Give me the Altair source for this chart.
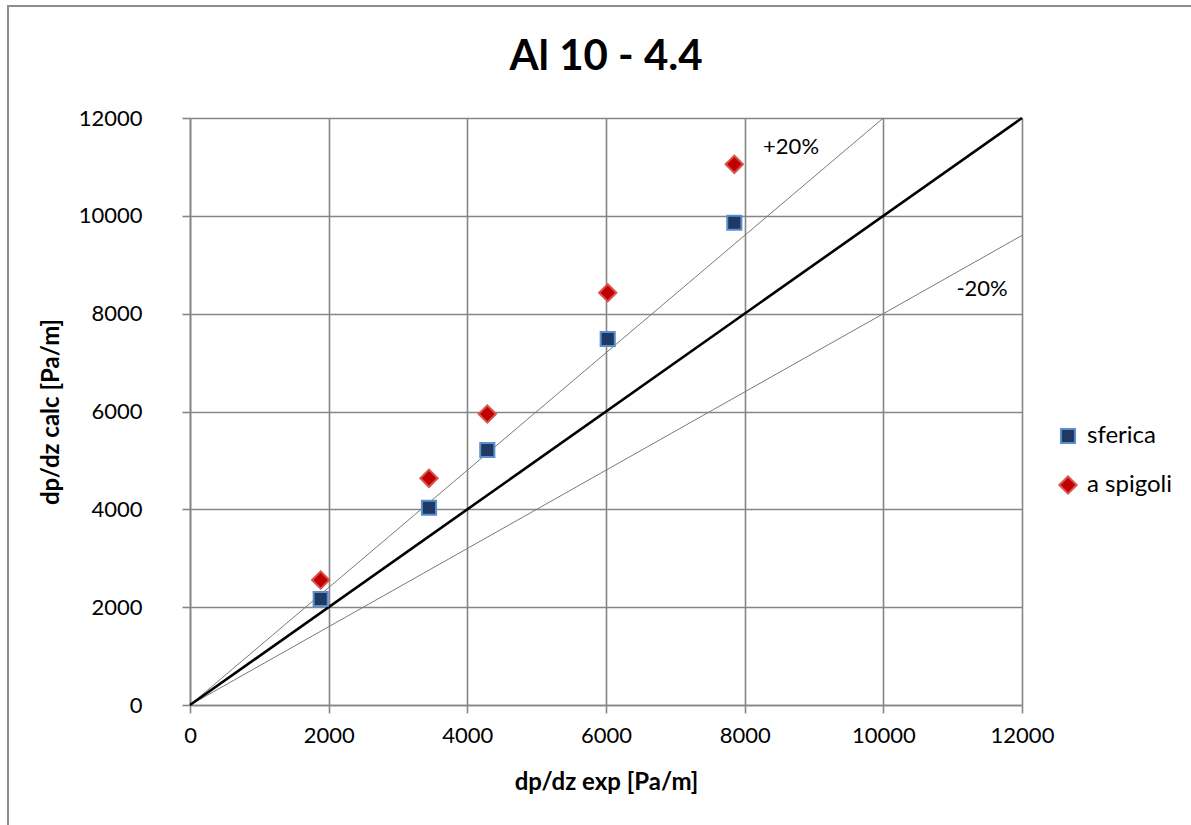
import altair as alt
import pandas as pd

# ---- data ----
x_exp = [1885, 3447, 4288, 6025, 7851]
sferica = [2167, 4033, 5213, 7482, 9859]
a_spigoli = [2555, 4634, 5948, 8428, 11053]

series_names = ["sferica", "a spigoli"]

ideal_x = [0, 12000]
ideal_y = [0, 12000]
plus_x = [0, 10000]
plus_y = [0, 12000]
minus_x = [0, 12000]
minus_y = [0, 9600]

label_text = ["+20%", "-20%"]
label_x = [8669, 11424]
label_y = [11406, 8504]

ticks = [0, 2000, 4000, 6000, 8000, 10000, 12000]

FONT = "Lato"

pts = pd.DataFrame(
    {"x": x_exp * 2,
     "y": sferica + a_spigoli,
     "serie": [series_names[0]] * len(x_exp) + [series_names[1]] * len(x_exp)}
)
lines = pd.DataFrame(
    {"x": ideal_x + plus_x + minus_x,
     "y": ideal_y + plus_y + minus_y,
     "line": ["ideal"] * 2 + ["plus"] * 2 + ["minus"] * 2}
)
labels = pd.DataFrame({"x": label_x, "y": label_y, "t": label_text})

xs = alt.Scale(domain=[0, 12000], nice=False)
ys = alt.Scale(domain=[0, 12000], nice=False)

x_axis = alt.Axis(values=ticks, format="d", title="dp/dz exp [Pa/m]", titleX=416, titleY=77,
                  titleBaseline="middle", labelPadding=12, labelFlush=False)
y_axis = alt.Axis(values=ticks, format="d", title="dp/dz calc [Pa/m]", titleX=-139, titleY=293.5,
                  titleAngle=-90, titleBaseline="middle", titleAlign="center",
                  labelPadding=40, labelFlush=False)

border = alt.Chart(pd.DataFrame({"a": [0]})).mark_rect(
    fill=None, stroke="#8c8c8c", strokeWidth=2
).encode(x=alt.value(-182), x2=alt.value(1020), y=alt.value(-112), y2=alt.value(720))

base_lines = alt.Chart(lines).encode(
    x=alt.X("x:Q", scale=xs, axis=x_axis),
    y=alt.Y("y:Q", scale=ys, axis=y_axis),
    detail="line:N",
)
thin = base_lines.transform_filter(alt.datum.line != "ideal").mark_line(
    color="#7a7a7a", strokeWidth=1
)
thick = base_lines.transform_filter(alt.datum.line == "ideal").mark_line(
    color="black", strokeWidth=2.6
)

leg = dict(title=None, orient="none", legendX=866, legendY=306,
           labelFontSize=24, labelFont=FONT,
           rowPadding=24, labelOffset=7, symbolStrokeWidth=2, labelLimit=300)

points = alt.Chart(pts).mark_point(filled=True, strokeWidth=2, opacity=1).encode(
    x=alt.X("x:Q", scale=xs),
    y=alt.Y("y:Q", scale=ys),
    color=alt.Color("serie:N", scale=alt.Scale(domain=series_names, range=["#1F3864", "#C00000"]),
                    legend=alt.Legend(**leg)),
    shape=alt.Shape("serie:N", scale=alt.Scale(domain=series_names, range=["square", "diamond"]),
                    legend=alt.Legend(**leg)),
    stroke=alt.Stroke("serie:N", scale=alt.Scale(domain=series_names, range=["#5B8FCB", "#D9534F"]),
                      legend=alt.Legend(**leg)),
    size=alt.Size("serie:N", scale=alt.Scale(domain=series_names, range=[200, 300]),
                  legend=alt.Legend(**leg)),
)

texts = alt.Chart(labels).mark_text(fontSize=22, font=FONT, color="black").encode(
    x=alt.X("x:Q", scale=xs), y=alt.Y("y:Q", scale=ys), text="t:N"
)

chart = alt.layer(border, thin, thick, points, texts).properties(
    width=832, height=587,
    title=alt.TitleParams("Al 10 - 4.4", fontSize=42, font=FONT, fontWeight="bold",
                          anchor="middle", frame="group", offset=-74, color="black"),
    autosize=alt.AutoSizeParams(type="none"),
    padding={"left": 190, "top": 118, "right": 169, "bottom": 120},
    background="white",
).configure_axis(
    gridColor="#868686", gridWidth=1.6, domainColor="#868686", domainWidth=1.6,
    tickColor="#868686", tickWidth=1.6, tickSize=8,
    labelFont=FONT, labelFontSize=22, labelColor="black",
    titleFont=FONT, titleFontSize=24, titleFontWeight="bold", titleColor="black",
).configure_view(stroke=None)

chart.save("out.html", embed_options={"renderer": "svg", "actions": False})
